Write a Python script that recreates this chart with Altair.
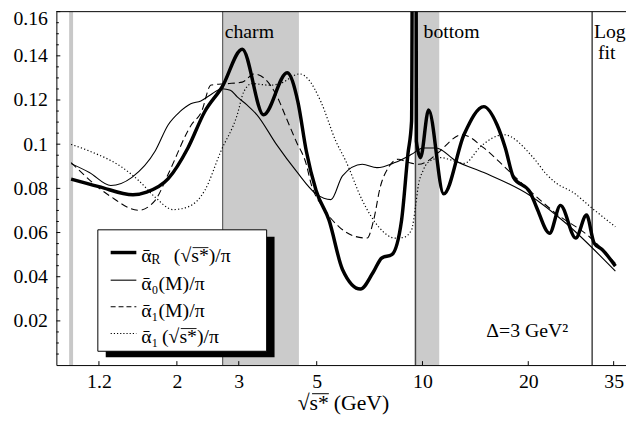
import altair as alt
import pandas as pd

# ---------------- data ----------------
# thick: alpha_R(sqrt s*)/pi
r_x = [1.0, 1.2, 1.5, 1.64, 1.89, 2.15, 2.4, 2.69, 3.07, 3.53, 4.12, 4.42, 4.67, 4.98, 5.42,
       5.92, 6.66, 7.24, 7.66, 8.18, 8.72, 9.09, 9.31, 9.49, 9.61, 9.87, 10.41, 11.49, 13.14,
       14.95, 16.3, 17.21, 18.15, 20.23, 21.1, 23.0, 24.7, 27.3, 29.3, 30.8, 32.5, 35.4]
r_y = [0.0842, 0.0808, 0.0771, 0.0783, 0.0844, 0.0983, 0.1147, 0.1259, 0.1430, 0.1133, 0.1323,
       0.1192, 0.0969, 0.0790, 0.0656, 0.0433, 0.0344, 0.0420, 0.0485, 0.0500, 0.0656, 0.0955,
       0.1103, 0.6000, 0.1013, 0.0939, 0.1155, 0.0775, 0.1045, 0.1170, 0.1088, 0.0983, 0.0850,
       0.0783, 0.0716, 0.0597, 0.0723, 0.0575, 0.0679, 0.0552, 0.0522, 0.0448]

# thin solid: alpha_0(M)/pi
m0_x = [1.0, 1.127, 1.297, 1.49, 1.735, 1.89, 2.04, 2.19, 2.34, 2.49, 2.69, 2.84, 2.97, 3.17,
        3.38, 3.84, 4.37, 4.98, 5.49, 5.92, 6.74, 7.42, 8.35, 9.31, 10.03, 10.94, 12.45, 14.95,
        20.23, 25.6, 35.4]
m0_y = [0.0912, 0.0872, 0.0813, 0.0850, 0.0969, 0.1088, 0.1147, 0.1183, 0.1196, 0.1223, 0.1251,
        0.1244, 0.1214, 0.1177, 0.1133, 0.0999, 0.0879, 0.0775, 0.0749, 0.0857, 0.0909, 0.0894,
        0.0917, 0.0954, 0.0983, 0.0983, 0.0924, 0.0872, 0.0768, 0.0642, 0.0425]

# dashed: alpha_1(M)/pi
m1_x = [1.0, 1.283, 1.558, 1.735, 1.89, 2.2, 2.35, 2.5, 2.78, 3.07, 3.32, 3.56, 3.84, 4.1, 4.37,
        4.67, 4.82, 5.2, 5.79, 6.45, 6.96, 7.26, 7.58, 8.0, 8.53, 9.1, 9.75, 10.36, 11.05, 12.97,
        14.95, 17.39, 20.67, 24.0, 29.8, 35.4]
m1_y = [0.0917, 0.0768, 0.0701, 0.0746, 0.0865, 0.1088, 0.1147, 0.1268, 0.1274, 0.1281, 0.1318,
        0.1296, 0.1222, 0.1117, 0.1013, 0.0909, 0.0820, 0.0716, 0.0626, 0.0582, 0.0575, 0.0656,
        0.0805, 0.0894, 0.0932, 0.0918, 0.0909, 0.0924, 0.0960, 0.1043, 0.0983, 0.0887, 0.0775,
        0.0686, 0.0582, 0.0460]

# dotted: alpha_1(sqrt s*)/pi
s1_x = [1.0, 1.127, 1.4, 1.558, 1.735, 1.95, 2.15, 2.4, 2.67, 2.97, 3.1, 3.27, 3.68, 3.93, 4.47,
        4.72, 5.14, 5.67, 6.05, 6.74, 7.5, 8.35, 8.8, 9.31, 9.55, 9.75, 10.03, 10.36, 11.3, 12.3,
        13.14, 14.67, 17.0, 20.67, 22.5, 24.0, 26.75, 30.5, 35.4]
s1_y = [0.0999, 0.0969, 0.0894, 0.0835, 0.0760, 0.0704, 0.0716, 0.0790, 0.0969, 0.1133, 0.1237,
        0.1274, 0.1267, 0.1274, 0.1318, 0.1296, 0.1192, 0.1013, 0.0924, 0.0746, 0.0626, 0.0575,
        0.0577, 0.0612, 0.0716, 0.0820, 0.0879, 0.0917, 0.0939, 0.0924, 0.0913, 0.0991, 0.1043,
        0.0939, 0.0865, 0.0824, 0.0783, 0.0708, 0.0626]

band_start = [2.70, 9.55]
band_end = [4.45, 11.16]
threshold_x = [2.70, 9.55, 30.4]
threshold_w = [1.0, 1.5, 1.5]
mass_line_x = [1.0]

x_ticks = [1.2, 2, 3, 5, 10, 20, 35]
y_labels = [0.02, 0.04, 0.06, 0.08, 0.10, 0.12, 0.14, 0.16]
y_minor = [0.005, 0.01, 0.015, 0.025, 0.03, 0.035, 0.045, 0.05, 0.055, 0.065, 0.07, 0.075,
           0.085, 0.09, 0.095, 0.105, 0.11, 0.115, 0.125, 0.13, 0.135, 0.145, 0.15, 0.155]

# ---------------- chart ----------------
W, H = 577, 358
FONT = "Liberation Serif"

xs = alt.Scale(type="log", domain=[0.908, 37.95], nice=False)
ys = alt.Scale(domain=[0, 0.16], nice=False, zero=False)
x_axis = alt.Axis(values=x_ticks, format="~g", labelFont=FONT, labelFontSize=20, labelColor="black",
                  ticks=False, domainColor="black", labelPadding=7, title=None, grid=False,
                  labelFlush=False, labelOverlap=False)
y_axis = alt.Axis(values=y_labels, labelExpr="format(datum.value, '.2~f')", labelFont=FONT,
                  labelFontSize=20, labelColor="black", ticks=False, domainColor="black",
                  labelPadding=9, title=None, grid=False, labelFlush=False, labelOverlap=False,
                  labelOffset={"condition": {"test": "datum.value > 0.155", "value": 7}, "value": 0})


def X(f="x"):
    return alt.X(f"{f}:Q", scale=xs, axis=x_axis)


def Y(f="y"):
    return alt.Y(f"{f}:Q", scale=ys, axis=y_axis)


ONE = pd.DataFrame({"k": [0]})

bands = alt.Chart(pd.DataFrame({"x": band_start, "x2": band_end})).mark_rect(
    color="#cbcbcb").encode(x=X(), x2="x2:Q", y=alt.value(0), y2=alt.value(H))

mass = alt.Chart(pd.DataFrame({"x": mass_line_x})).mark_rule(
    color="#c8c8c8", strokeWidth=4).encode(x=X(), y=alt.value(0), y2=alt.value(H))

thresh = alt.Chart(pd.DataFrame({"x": threshold_x, "w": threshold_w})).mark_rule(
    color="#444444").encode(x=X(), y=alt.value(0), y2=alt.value(H),
                            strokeWidth=alt.StrokeWidth("w:Q", scale=None, legend=None))


def curve(xv, yv, **kw):
    return alt.Chart(pd.DataFrame({"x": xv, "y": yv})).mark_line(
        color="black", clip=True, interpolate="monotone", **kw).encode(x=X(), y=Y())


c_r = curve(r_x, r_y, strokeWidth=3.5)
c_m0 = curve(m0_x, m0_y, strokeWidth=1.1)
c_m1 = curve(m1_x, m1_y, strokeWidth=1.1, strokeDash=[7, 4])
c_s1 = curve(s1_x, s1_y, strokeWidth=1.2, strokeDash=[1.2, 2.3])

xt = alt.Chart(pd.DataFrame({"x": x_ticks})).mark_rule(color="black").encode(
    x=X(), y=alt.value(H - 4), y2=alt.value(H))
yt_major = alt.Chart(pd.DataFrame({"y": y_labels})).mark_rule(color="black").encode(
    y=Y(), x=alt.value(0), x2=alt.value(4))
yt_minor = alt.Chart(pd.DataFrame({"y": y_minor})).mark_rule(color="black").encode(
    y=Y(), x=alt.value(0), x2=alt.value(2.5))
top_border = alt.Chart(ONE).mark_rule(color="black").encode(
    x=alt.value(0), x2=alt.value(W), y=alt.value(0))


def box(x1, x2, y1, y2, **kw):
    return alt.Chart(ONE).mark_rect(**kw).encode(
        x=alt.value(x1), x2=alt.value(x2), y=alt.value(y1), y2=alt.value(y2))


def seg(x1, x2, y, **kw):
    return alt.Chart(ONE).mark_rule(color="black", **kw).encode(
        x=alt.value(x1), x2=alt.value(x2), y=alt.value(y))


def txt(s, x, y, size=20, align="left", baseline="middle"):
    return alt.Chart(ONE).mark_text(text=s, align=align, baseline=baseline, font=FONT,
                                    fontSize=size, color="black").encode(
        x=alt.value(x), y=alt.value(y))


shadow = box(50, 221, 228, 350, color="black")
lbox = box(42, 213, 221, 344, fill="white", stroke="black", strokeWidth=1)
rows = [244, 272, 299, 326]
ty = [r + 4 for r in rows]
samples = [
    seg(55, 81, rows[0], strokeWidth=3.5),
    seg(55, 81, rows[1], strokeWidth=1.1),
    seg(55, 81, rows[2], strokeWidth=1.1, strokeDash=[5, 3]),
    seg(55, 81, rows[3], strokeWidth=1.2, strokeDash=[1.2, 2.0]),
]
texts = [
    txt("\u1fb1", 86, ty[0]),
    txt("R", 96, ty[0] + 4, size=14),
    txt("(\u221as*)/\u03c0", 119, ty[0]),
    txt("\u1fb1\u2080(M)/\u03c0", 86, ty[1]),
    txt("\u1fb1\u2081(M)/\u03c0", 86, ty[2]),
    txt("\u1fb1\u2081", 86, ty[3]),
    txt("(\u221as*)/\u03c0", 107, ty[3]),
    txt("charm", 170.5, 21),
    txt("bottom", 372, 21),
    txt("Log", 544.5, 21),
    txt("fit", 557.5, 42, align="center"),
    txt("\u0394=3 GeV\u00b2", 435.5, 324),
    txt("\u221as*", 276, 397, size=22, align="right"),
    txt("(GeV)", 281, 397, size=22),
]
# vinculum bars over s*
vinc = [
    seg(138, 154, ty[0] - 9, strokeWidth=0.9),
    seg(126, 142, ty[3] - 9, strokeWidth=0.9),
    seg(259, 276, 387, strokeWidth=1.0),
]

chart = alt.layer(
    bands, mass, thresh, c_m0, c_m1, c_s1, c_r, xt, yt_major, yt_minor, top_border,
    shadow, lbox, *samples, *texts, *vinc
).properties(
    width=W, height=H, autosize="none",
    padding={"left": 49, "top": 1, "right": 0, "bottom": 58}
).configure_view(stroke=None).configure_axis(labelFont=FONT).configure_text(font=FONT)

chart.save("out.html", embed_options={"renderer": "svg", "actions": False})
